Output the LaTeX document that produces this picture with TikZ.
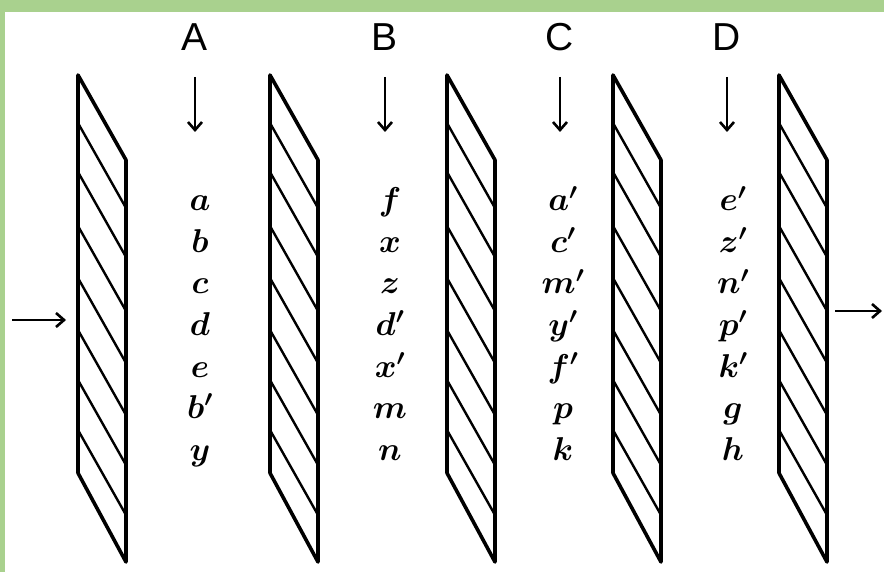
\RequirePackage{fix-cm}
\documentclass[tikz,border=0pt]{standalone}
\usepackage{fontspec}
\newfontfamily\capsfont{Liberation Sans}
\usetikzlibrary{arrows.meta}
\definecolor{framegreen}{HTML}{A9D18E}
\tikzset{
  platebox/.style={line width=3.6pt, line join=round, line cap=round},
  hatchline/.style={line width=2.4pt, line cap=round},
  arr/.style={line width=2.6pt, -{Straight Barb[length=8pt,width=14pt,line width=2.6pt]}},
  caplabel/.style={font=\capsfont\fontsize{39}{40}\selectfont, anchor=base, inner sep=0pt},
  letter/.style={font=\boldmath\fontsize{33}{36}\selectfont, anchor=base, inner sep=0pt}
}
\begin{document}
\begin{tikzpicture}[x=1pt,y=-1pt]
\useasboundingbox (0,0) rectangle (884,572);
\fill[white] (0,0) rectangle (884,572);
\fill[framegreen] (0,0) rectangle (884,12);
\fill[framegreen] (0,0) rectangle (5,572);
% plates
\foreach \x in {78,270,447,613,779}{
  \draw[platebox] (\x,75) -- (\x+48,160) -- (\x+48,562) -- (\x,473) -- cycle;
  \foreach \y in {123,172,226,278,330,380,430}
    \draw[hatchline] (\x,\y) -- (\x+48,\y+85);
}
% column labels and arrows
\foreach \c/\x in {A/195,B/385,C/560,D/727}{
  \node[caplabel] (lab\c) at (\x,51) {\c};
  \coordinate (top\c) at (\x,77);
  \coordinate (bot\c) at (\x,132);
  \draw[arr] (top\c) -- (bot\c);
}
% letters
\foreach \t [count=\i] in {a,b,c,d,e,b',y}
  \node[letter] (ca\i) at (200,211+41.5*\i-41.5) {$\t$};
\foreach \t [count=\i] in {f,x,z,d',x',m,n}
  \node[letter] (cb\i) at (390,211+41.5*\i-41.5) {$\t$};
\foreach \t [count=\i] in {a',c',m',y',f',p,k}
  \node[letter] (cc\i) at (563,211+41.5*\i-41.5) {$\t$};
\foreach \t [count=\i] in {e',z',n',p',k',g,h}
  \node[letter] (cd\i) at (733,211+41.5*\i-41.5) {$\t$};
% input / output arrows
\coordinate (inS) at (12,320);
\coordinate (inE) at (66,320);
\draw[arr] (inS) -- (inE);
\coordinate (outS) at (835,311);
\coordinate (outE) at (882,311);
\draw[arr] (outS) -- (outE);
\end{tikzpicture}
\end{document}
